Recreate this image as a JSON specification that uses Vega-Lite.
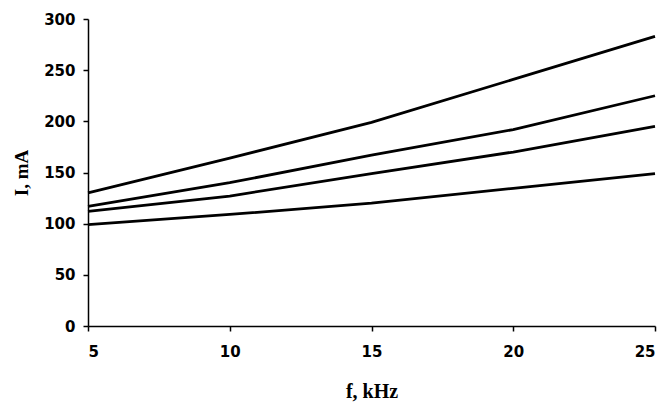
{
  "$schema": "https://vega.github.io/schema/vega-lite/v6.json",
  "autosize": "none",
  "width": 567,
  "height": 307,
  "padding": {"left": 88, "top": 19, "right": 13, "bottom": 82},
  "background": "white",
  "config": {"view": {"stroke": null}},
  "data": {"values": [
    {"f": 5, "I": 130, "s": "a"}, {"f": 10, "I": 164, "s": "a"}, {"f": 15, "I": 199, "s": "a"}, {"f": 20, "I": 241, "s": "a"}, {"f": 25, "I": 283, "s": "a"},
    {"f": 5, "I": 117, "s": "b"}, {"f": 10, "I": 140, "s": "b"}, {"f": 15, "I": 167, "s": "b"}, {"f": 20, "I": 192, "s": "b"}, {"f": 25, "I": 225, "s": "b"},
    {"f": 5, "I": 112, "s": "c"}, {"f": 10, "I": 127, "s": "c"}, {"f": 15, "I": 149, "s": "c"}, {"f": 20, "I": 170, "s": "c"}, {"f": 25, "I": 195, "s": "c"},
    {"f": 5, "I": 99, "s": "d"}, {"f": 10, "I": 109, "s": "d"}, {"f": 15, "I": 120, "s": "d"}, {"f": 20, "I": 134.5, "s": "d"}, {"f": 25, "I": 149, "s": "d"}
  ]},
  "mark": {"type": "line", "color": "black", "strokeWidth": 2.8},
  "encoding": {
    "x": {"field": "f", "type": "quantitative", "scale": {"domain": [5, 25], "nice": false},
      "axis": {"values": [5, 10, 15, 20, 25], "grid": false, "title": "f, kHz", "domainColor": "black", "domainWidth": 1.5, "tickColor": "black", "tickWidth": 1.5, "tickSize": 5, "labelPadding": 13, "labelFont": "DejaVu Sans", "labelFontWeight": "bold", "labelFontSize": 15, "labelColor": "black", "titleFont": "Liberation Serif", "titleFontWeight": "bold", "titleFontSize": 20, "titleColor": "black", "titlePadding": 22}},
    "y": {"field": "I", "type": "quantitative", "scale": {"domain": [0, 300], "nice": false},
      "axis": {"values": [0, 50, 100, 150, 200, 250, 300], "grid": false, "title": "I, mA", "domainColor": "black", "domainWidth": 1.5, "tickColor": "black", "tickWidth": 1.5, "tickSize": 5, "labelPadding": 8, "labelFont": "DejaVu Sans", "labelFontWeight": "bold", "labelFontSize": 15, "labelColor": "black", "titleFont": "Liberation Serif", "titleFontWeight": "bold", "titleFontSize": 19, "titleColor": "black", "titlePadding": 12}},
    "detail": {"field": "s"}
  }
}
